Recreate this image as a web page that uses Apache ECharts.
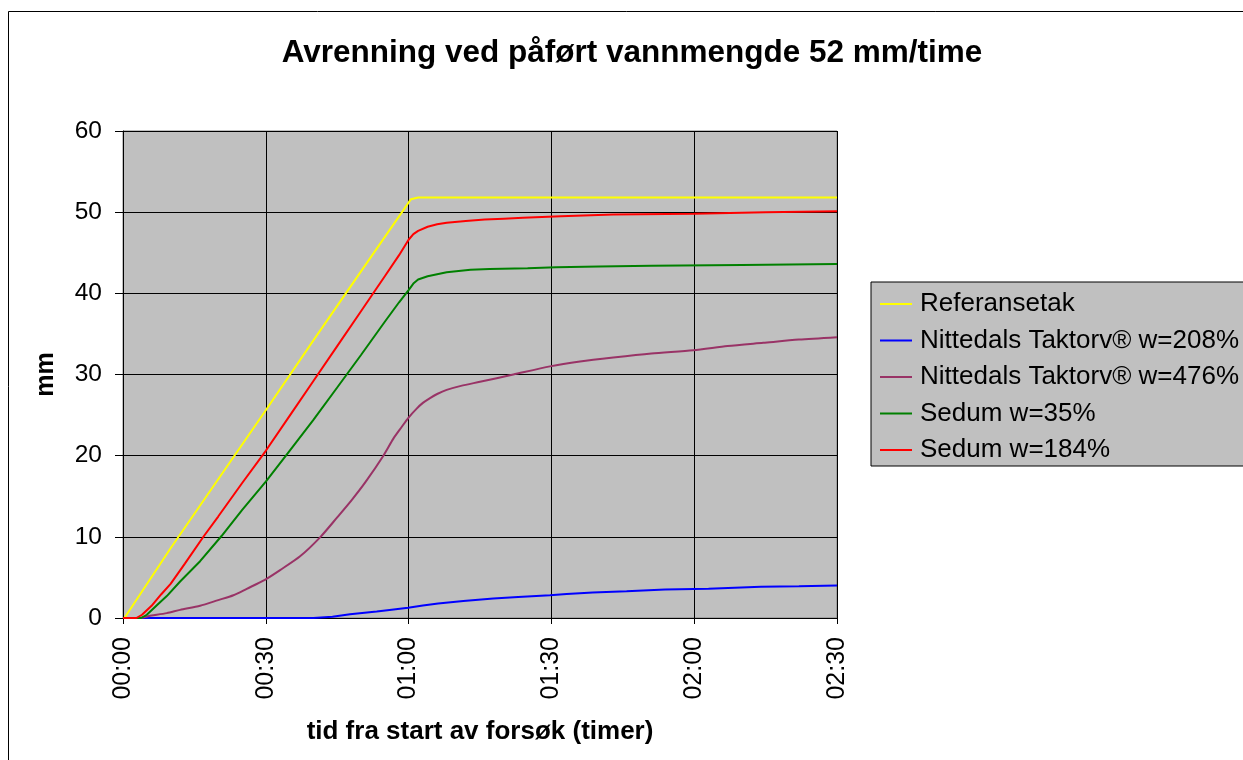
<!DOCTYPE html>
<html>
<head>
<meta charset="utf-8">
<script src="https://cdn.jsdelivr.net/npm/echarts@6/dist/echarts.min.js"></script>
<style>
html,body{margin:0;padding:0;background:#fff;}
#c{width:1243px;height:760px;}
</style>
</head>
<body>
<div id="c"></div>
<script>
// ---- data (time in minutes, runoff in mm) ----
const xTickLabels = ['00:00', '00:30', '01:00', '01:30', '02:00', '02:30'];
const seriesNames = ['Referansetak', 'Nittedals Taktorv\u00AE w=208%', 'Nittedals Taktorv\u00AE w=476%', 'Sedum w=35%', 'Sedum w=184%'];

const refT = [0.3, 10, 20, 30, 40, 50, 60.5, 62, 80, 100, 120, 150];
const refV = [0, 8.6, 17.1, 25.6, 34.2, 42.7, 51.6, 51.8, 51.8, 51.8, 51.8, 51.8];

const t208T = [0, 40, 44, 47.7, 53.3, 56, 59.9, 63, 66.2, 71.5, 77.8, 83, 89.7, 93.2, 98.7, 105.8, 113.9, 123, 134, 142, 150];
const t208V = [0, 0, 0.15, 0.45, 0.8, 1.0, 1.27, 1.55, 1.8, 2.1, 2.4, 2.6, 2.8, 2.95, 3.15, 3.3, 3.5, 3.6, 3.85, 3.9, 4.0];

const t476T = [0, 3, 6, 9.2, 12, 16.2, 20, 23.2, 26, 29.8, 33, 37.2, 41.5, 45, 48, 51, 54.7, 56.8, 58.5, 60, 61.7, 63, 64.5, 66, 68, 71, 75, 82, 89.7, 96, 103, 111, 119.8, 127, 134.5, 142, 150];
const t476V = [0, 0, 0.3, 0.6, 1.0, 1.5, 2.2, 2.8, 3.6, 4.7, 5.9, 7.6, 10.0, 12.4, 14.5, 16.8, 20.0, 22.1, 23.5, 24.7, 25.8, 26.5, 27.1, 27.6, 28.1, 28.6, 29.1, 30.0, 31.0, 31.6, 32.1, 32.6, 33.0, 33.5, 33.9, 34.3, 34.6];

const sed35T = [0, 3.8, 5, 7, 9.2, 12, 16.2, 20.7, 25, 30, 35, 40, 45, 50, 55, 58, 60, 61, 62, 64, 68, 73, 77, 85, 91, 100, 111, 130, 150];
const sed35V = [0, 0, 0.4, 1.5, 2.7, 4.5, 7.0, 10.1, 13.3, 16.8, 20.6, 24.4, 28.4, 32.4, 36.5, 38.9, 40.4, 41.2, 41.7, 42.1, 42.6, 42.9, 43.0, 43.1, 43.2, 43.3, 43.4, 43.5, 43.6];

const sed184T = [0, 2.8, 4, 6, 8, 10, 13, 17, 20, 25, 30, 35, 40, 45, 50, 55, 58, 60, 61, 62, 64, 66, 68, 72, 76, 80, 84, 92, 103, 120, 135, 150];
const sed184V = [0, 0, 0.4, 1.5, 2.9, 4.2, 6.7, 10.1, 12.5, 16.6, 20.6, 24.9, 29.2, 33.5, 37.8, 42.1, 44.7, 46.6, 47.3, 47.7, 48.2, 48.5, 48.7, 48.9, 49.1, 49.2, 49.3, 49.5, 49.7, 49.8, 50.0, 50.1];

const colors = ['#FFFF00', '#0000FF', '#993366', '#008000', '#FF0000'];
const smoothing = [false, false, 0.25, false, false];

function pairs(t, v) { return t.map((x, i) => [x, v[i]]); }
const allData = [pairs(refT, refV), pairs(t208T, t208V), pairs(t476T, t476V), pairs(sed35T, sed35V), pairs(sed184T, sed184V)];

const FONT = 'Liberation Sans, Arial, sans-serif';
const chart = echarts.init(document.getElementById('c'), null, {renderer: 'canvas'});
chart.setOption({
  animation: false,
  backgroundColor: '#fff',
  title: {
    text: 'Avrenning ved påført vannmengde 52 mm/time',
    left: 627, textAlign: 'center', top: 32,
    textStyle: {fontFamily: FONT, fontSize: 31.5, fontWeight: 'bold', color: '#000'}
  },
  graphic: [{
    type: 'rect', silent: true, z: -1,
    shape: {x: 8.5, y: 11.5, width: 1300, height: 800},
    style: {fill: 'none', stroke: '#000', lineWidth: 1}
  }],
  legend: {
    orient: 'vertical', left: 871, top: 282,
    padding: [9, 40, 3, 9],
    backgroundColor: '#C0C0C0', borderColor: '#000', borderWidth: 1,
    icon: 'rect', itemWidth: 32, itemHeight: 2, itemGap: 10.5,
    data: seriesNames,
    textStyle: {fontFamily: FONT, fontSize: 26, color: '#000', lineHeight: 26, padding: [0, 0, 0, 3]}
  },
  grid: {
    left: 123, right: 406, top: 131, bottom: 142,
    show: true, backgroundColor: '#C0C0C0', borderColor: '#808080', borderWidth: 1
  },
  xAxis: {
    type: 'value', min: 0, max: 150, interval: 30,
    name: 'tid fra start av forsøk (timer)', nameLocation: 'middle', nameGap: 101,
    nameTextStyle: {fontFamily: FONT, fontSize: 26, fontWeight: 'bold', color: '#000'},
    axisLine: {show: true, lineStyle: {color: '#000', width: 1}},
    axisTick: {show: true, length: 6, lineStyle: {color: '#000'}},
    axisLabel: {
      rotate: 90, margin: 19, fontFamily: FONT, fontSize: 25, color: '#000',
      formatter: v => xTickLabels[Math.round(v / 30)]
    },
    splitLine: {show: true, lineStyle: {color: '#000', width: 1}}
  },
  yAxis: {
    type: 'value', min: 0, max: 60, interval: 10,
    name: 'mm', nameLocation: 'middle', nameGap: 64, nameRotate: 90,
    nameTextStyle: {fontFamily: FONT, fontSize: 25, fontWeight: 'bold', color: '#000'},
    axisLine: {show: true, lineStyle: {color: '#000', width: 1}},
    axisTick: {show: true, length: 8, lineStyle: {color: '#000'}},
    axisLabel: {margin: 21, fontFamily: FONT, fontSize: 24.5, color: '#000'},
    splitLine: {show: true, lineStyle: {color: '#000', width: 1}}
  },
  series: seriesNames.map((n, i) => ({
    name: n, type: 'line', data: allData[i], symbol: 'none', smooth: smoothing[i],
    lineStyle: {color: colors[i], width: 2}, itemStyle: {color: colors[i]}, z: 3
  }))
});
</script>
</body>
</html>
